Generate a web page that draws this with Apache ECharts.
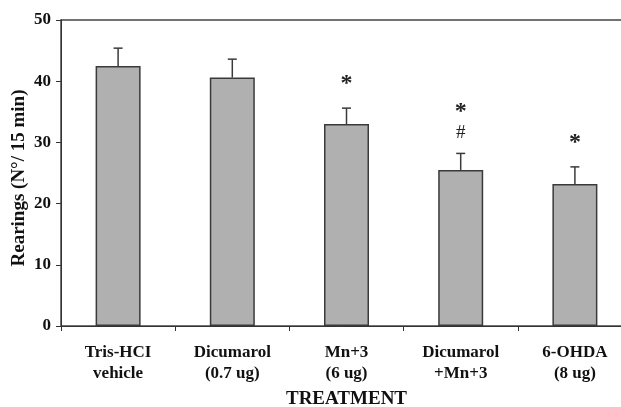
<!DOCTYPE html>
<html>
<head>
<meta charset="utf-8">
<script src="https://cdn.jsdelivr.net/npm/echarts@6/dist/echarts.min.js"></script>
<style>
html,body{margin:0;padding:0;background:#fff;overflow:hidden;}
#chart{width:621px;height:407px;}
</style>
</head>
<body>
<div id="chart"></div>
<script>
const categories = ['Tris-HCI\nvehicle', 'Dicumarol\n(0.7 ug)', 'Mn+3\n(6 ug)', 'Dicumarol\n+Mn+3', '6-OHDA\n(8 ug)'];
const means = [42.5, 40.6, 33.0, 25.5, 23.2];
const errors = [2.9, 3.0, 2.6, 2.7, 2.8];
const marks = [[], [], ['*'], ['#', '*'], ['*']];
const yTicks = [0, 10, 20, 30, 40, 50];

const FONT = '"Liberation Serif", "Times New Roman", serif';
const chart = echarts.init(document.getElementById('chart'), null, {renderer: 'canvas'});

const errData = means.map((m, i) => [i, m, m + errors[i]]);

chart.setOption({
  animation: false,
  backgroundColor: '#fff',
  grid: {
    left: 61, top: 20, width: 571, height: 306,
    outerBoundsMode: 'none', containLabel: false,
    show: true, borderColor: '#444', borderWidth: 1.5, backgroundColor: 'transparent'
  },
  xAxis: {
    type: 'category',
    data: categories,
    boundaryGap: true,
    axisLine: {lineStyle: {color: '#333', width: 1}},
    axisTick: {show: true, length: 5, alignWithLabel: false, lineStyle: {color: '#333'}},
    axisLabel: {
      fontFamily: FONT, fontWeight: 'bold', fontSize: 17, color: '#111',
      lineHeight: 21, margin: 16, interval: 0
    },
    name: 'TREATMENT',
    nameLocation: 'middle',
    nameGap: 64,
    nameMoveOverlap: false,
    nameTextStyle: {fontFamily: FONT, fontWeight: 'bold', fontSize: 19, color: '#111'}
  },
  yAxis: {
    type: 'value',
    min: yTicks[0], max: yTicks[yTicks.length - 1], interval: 10,
    splitLine: {show: false},
    axisLine: {show: true, lineStyle: {color: '#333', width: 1}},
    axisTick: {show: true, length: 5, lineStyle: {color: '#333'}},
    axisLabel: {fontFamily: FONT, fontWeight: 'bold', fontSize: 17, color: '#111', margin: 10},
    name: 'Rearings (N°/ 15 min)',
    nameLocation: 'middle',
    nameRotate: 90,
    nameGap: 32,
    nameMoveOverlap: false,
    nameTextStyle: {fontFamily: FONT, fontWeight: 'bold', fontSize: 19, color: '#111', padding: [0, 10, 0, 0]}
  },
  series: [
    {
      type: 'bar',
      data: means,
      barWidth: 45,
      itemStyle: {color: '#b0b0b0', borderColor: '#3a3a3a', borderWidth: 1.5},
      z: 2
    },
    {
      type: 'custom',
      data: errData,
      z: 3,
      renderItem: function (params, api) {
        const i = api.value(0);
        const base = api.coord([i, api.value(1)]);
        const top = api.coord([i, api.value(2)]);
        const children = [
          {type: 'line', shape: {x1: top[0], y1: base[1], x2: top[0], y2: top[1]},
           style: {stroke: '#3a3a3a', lineWidth: 1.5}},
          {type: 'line', shape: {x1: top[0] - 4.5, y1: top[1], x2: top[0] + 4.5, y2: top[1]},
           style: {stroke: '#3a3a3a', lineWidth: 1.5}}
        ];
        const m = marks[params.dataIndex];
        m.forEach(function (g, k) {
          let off = (g === '*' && k === 0) ? 29 : 20 + 27 * k;
          const isStar = g === '*';
          children.push({
            type: 'text',
            style: {
              text: g, x: top[0], y: top[1] - off + (isStar ? 5 : 0),
              align: 'center', verticalAlign: 'middle',
              font: (isStar ? 'bold 24px ' : '19px ') + FONT,
              fill: '#222'
            }
          });
        });
        return {type: 'group', children: children};
      }
    }
  ]
});
</script>
</body>
</html>
